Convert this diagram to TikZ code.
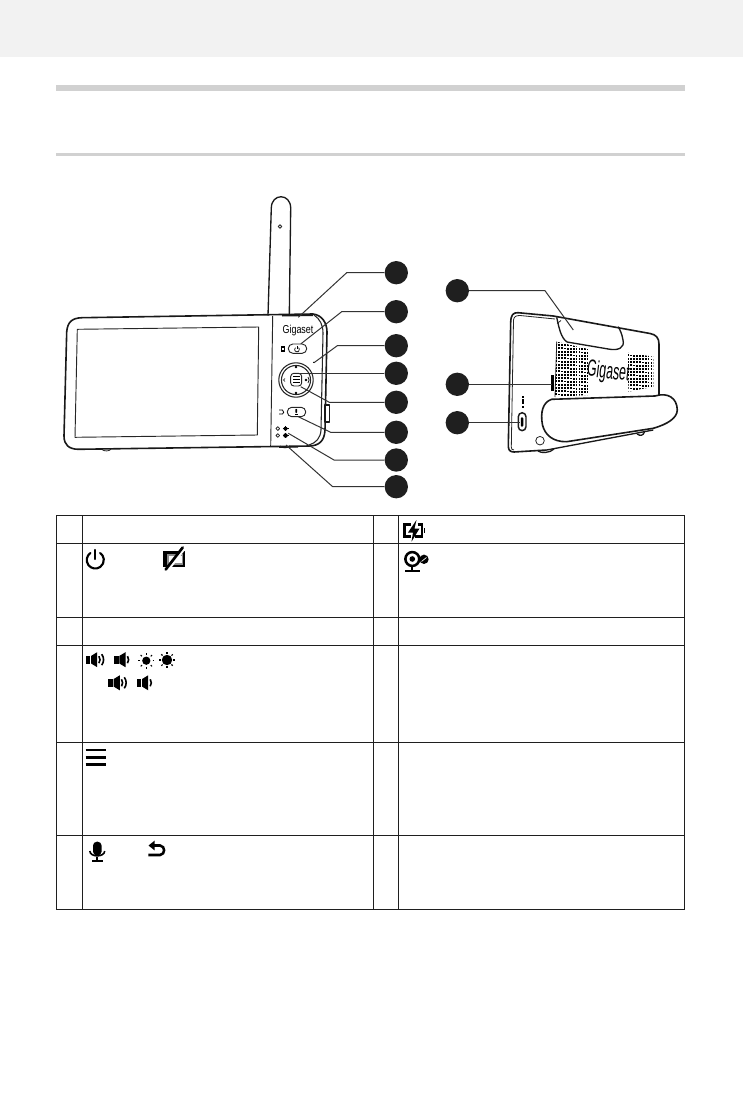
\documentclass[tikz,border=0pt]{standalone}
\usepackage{fontspec}
\setmainfont{Liberation Sans}
\tikzset{
  num/.style={circle,fill=black!88,draw=none,minimum size=17.5pt,inner sep=0pt},
  lead/.style={draw=black!80,line width=0.75pt,line join=miter},
  dev/.style={draw=black!90,line width=1pt,line join=round},
  devthin/.style={draw=black!85,line width=0.6pt,line join=round},
  grid/.style={draw=black!88,line width=1pt},
  pics/spk/.style={code={
    \fill (0,-3.8) rectangle (4.6,3.8);
    \fill (5.4,-3.8) -- (11.5,-7.5) -- (11.5,7.5) -- (5.4,3.8) -- cycle;
    \draw[line width=1.2pt] (13.5,-3.5) .. controls (15,-1) and (15,1) .. (13.5,3.5);
  }},
  pics/spkb/.style={code={
    \fill (0,-3.8) rectangle (4.6,3.8);
    \fill (5.4,-3.8) -- (11.5,-7.5) -- (11.5,7.5) -- (5.4,3.8) -- cycle;
    \draw[line width=1.2pt] (13.2,-3.5) .. controls (14.7,-1) and (14.7,1) .. (13.2,3.5);
    \draw[line width=1.2pt] (16,-5.5) .. controls (18.5,-2) and (18.5,2) .. (16,5.5);
  }},
  pics/sunny/.style={code={
    \fill (0,0) circle[radius=#1];
    \foreach \a in {0,45,...,315}
      \draw[line width=0.8pt] (\a:6.2) -- (\a:8);
  }},
}
\begin{document}
\begin{tikzpicture}[x=0.75pt,y=-0.75pt]
\useasboundingbox (0,0) rectangle (743,1105);
% page furniture
\fill[gray!10] (0,0) rectangle (743,57);
\fill[black!18] (56,85) rectangle (685,91);
\fill[black!18] (56,153) rectangle (685,156);

% ===== front view =====
\draw[dev] (268,315.5) -- (271.3,208) .. controls (271.5,193) and (290.5,193) .. (290.7,208) -- (289.3,315);
\draw[devthin] (280,226.5) circle[radius=1.3pt];
\draw[dev,line width=1.2pt] (66.7,332) .. controls (67.5,322) and (72,318) .. (82,317.7) -- (313,314)
  .. controls (322,315) and (327,323) .. (327,332) -- (325,430)
  .. controls (324.5,441) and (319,445.5) .. (310,446) -- (78,449.3)
  .. controls (69,449) and (64,445) .. (64,436) -- cycle;
\draw[devthin,line width=0.7pt] (77.3,329.3) -- (258.7,327) -- (257.3,435) -- (75,437.3) -- cycle;
\draw[devthin,line width=0.7pt] (272.7,316) -- (270.7,446);
\draw[devthin,line width=0.8pt] (314,315) .. controls (320,319) and (323,325) .. (323,333) -- (321,430) .. controls (320.5,438) and (316,443) .. (309,445);
\draw[line width=1.5pt,black!90] (282,315.5) -- (313,315);
\draw[devthin] (101.7,449.3) .. controls (104,451.5) and (109,451.5) .. (111,449.2);
\draw[devthin] (280,446) .. controls (283,448.5) and (287,448.5) .. (290,446);
\draw[dev,fill=white,line width=1.2pt] (325,405) rectangle (329.3,421.7);
\node (logoA) at (298,331) {\scalebox{0.78}[1]{\fontsize{8.6pt}{9pt}\selectfont Gigaset}};
\draw[devthin,line width=0.7pt,rounded corners=3.4pt] (288.3,344) rectangle (306.7,353.3);
\draw[line width=0.6pt] (297,345.8) -- (297,348.5);
\draw[line width=0.5pt] (295.46,347.66) arc[start angle=130,end angle=410,radius=1.8pt];
\fill (280.5,346) rectangle (285,351.5);
\fill[white] (282,347.5) rectangle (283.5,349.5);
\fill (313.6,362.4) circle[radius=0.5pt];
\draw[devthin,line width=0.8pt] (296,380) circle[radius=12.9pt];
\draw[devthin,line width=0.8pt] (296,380) circle[radius=10.9pt];
\draw[devthin,line width=0.7pt,rounded corners=2.4pt] (290.7,373.3) rectangle (301.7,386);
\foreach \yy in {376.7,379.6,382.5} \draw[line width=0.6pt] (293,\yy) -- (299.5,\yy);
\fill (296,367) circle[radius=1.1pt];
\fill (296,393) circle[radius=1.1pt];
\fill (306,380) circle[radius=1.1pt];
\draw[line width=0.5pt] (308,377) .. controls (309.5,379) and (309.5,381) .. (308,383);
\draw[line width=0.5pt] (285,378.5) -- (283.5,380) -- (285,381.5);
\draw[devthin,line width=0.7pt,rounded corners=3.4pt] (287.3,407.3) rectangle (305.7,416.7);
\fill[rounded corners=0.6pt] (295.3,408.8) rectangle (297.2,413);
\draw[line width=0.4pt] (295,414.5) -- (297.5,414.5);
\draw[line width=0.6pt] (279,410) -- (282.5,410) .. controls (284,411.5) and (284,413.5) .. (282.5,414) -- (279,414);
\draw[devthin] (277.8,428.6) circle[radius=1.4pt];
\draw[devthin] (277.8,435.5) circle[radius=1.4pt];
\fill (285.5,428.6) circle[radius=1.5pt];
\fill (285.5,435.5) circle[radius=1.7pt];
\draw[line width=0.4pt] (282.5,428.6) -- (288.5,428.6) (282.5,435.5) -- (288.5,435.5);
\draw[line width=0.4pt] (285.5,425.8) -- (285.5,431.4) (285.5,432.6) -- (285.5,438.4);
\draw[line width=1pt,black!90] (279,447.2) -- (298,447);

% ===== back view =====
\draw[dev,line width=1.2pt] (546.7,450) -- (514,452) .. controls (510,452) and (508.3,450) .. (508.3,446)
  -- (510.7,322) .. controls (511,315) and (513,312.5) .. (518,312.7)
  -- (553.3,316) -- (650,333.5) .. controls (656,334.5) and (659,338) .. (659,344) -- (659,397);
\draw[devthin] (513.5,320) .. controls (514,316.5) and (516,315.5) .. (520,315.5) -- (555,319);
\draw[devthin] (513.5,320) -- (511.3,447) .. controls (511.3,449) and (512,450) .. (514,450);
\draw[dev] (556.7,317.3) .. controls (559,328) and (561,338) .. (567,342) -- (610,349.3)
  .. controls (618,350.5) and (625,348) .. (623,340) .. controls (622,334) and (620,330) .. (618.3,326.7);
\draw[devthin] (561,320.5) -- (557,323.5);
\draw[devthin] (556.7,341.7) -- (555,397);
\begin{scope}
  \clip (556.7,341.7) -- (588,349) -- (588,395) -- (555,397) -- cycle;
  \foreach \i in {0,...,11}
    \foreach \j in {0,...,17}
      \fill (555.8+2.95*\i-0.9,341.5+3.3*\j+0.12*\i-0.9) rectangle ++(1.9,1.9);
\end{scope}
\begin{scope}
  \clip (628,352.7) -- (653.3,356.7) -- (653.3,386.7) -- (628.3,391.7) -- cycle;
  \foreach \i in {0,...,9}
    \foreach \j in {0,...,12}
      \fill (627.8+2.95*\i-0.9,352+3.3*\j+0.1*\i-0.9) rectangle ++(1.9,1.9);
\end{scope}
\node[rotate=-7,inner sep=0pt] (logoB) at (608.3,372.5) {\scalebox{0.53}[1]{\fontsize{17.5pt}{18pt}\selectfont Gigaset}};
\draw[dev,fill=white,line width=1.2pt] (551.7,399.3) -- (655,396) .. controls (668,392) and (677,398) .. (677.3,410)
  .. controls (677,418) and (668,424) .. (653.3,428.3) -- (566.7,441.7)
  .. controls (553,442) and (545,435) .. (542.5,425) .. controls (540,412) and (543,402) .. (551.7,399.3);
\draw[dev] (546.7,450) -- (653.3,430);
\draw[dev] (538,451) .. controls (541,453.5) and (550,453) .. (554,449);
\draw[dev] (637,434) .. controls (640,436) and (643,436) .. (644.5,432);
\fill (551,375) rectangle (554,390.7);
\draw[dev,line width=1.1pt,rounded corners=3pt] (518.3,412.7) rectangle (526,430.7);
\fill[rounded corners=1pt] (520.8,417) rectangle (523.3,427);
\draw[devthin] (540,440.7) circle[radius=3.2pt];
\fill (521.5,399) rectangle (523.5,404);
\fill (521.5,396) rectangle (523.5,397.5);
\fill (521.5,405.5) rectangle (523.5,407.5);

% ===== callouts =====
\foreach \nm/\xx/\yy in {a/396.3/272.7,b/396.3/311.7,c/396.3/345.7,d/396.3/373.3,e/396.3/402.3,f/396.3/432.3,g/396.3/460,h/396.3/486.7,i/457.3/290.7,j/457.3/384.3,k/457.3/422.7}
  \node[num] (\nm) at (\xx,\yy) {};
\coordinate (ae) at (346.7,272.7); \coordinate (at) at (298.3,317.3);
\coordinate (be) at (341.7,311.7); \coordinate (bt) at (300.7,344);
\coordinate (ce) at (337.3,345.7); \coordinate (ct) at (314,362.7);
\coordinate (dt) at (299,373.3);
\coordinate (ee) at (329.3,402.3); \coordinate (et) at (300.7,386.7);
\coordinate (fe) at (330.7,432.3); \coordinate (ft) at (298.3,416.7);
\coordinate (ge) at (334,460);     \coordinate (gt) at (288.3,433.3);
\coordinate (he) at (332.7,486.7); \coordinate (ht) at (286,445);
\coordinate (ie) at (545,290.7);   \coordinate (it) at (573.3,330);
\coordinate (jt) at (551.7,384.3);
\coordinate (kt) at (520,422.7);
\draw[lead] (a) -- (ae) -- (at);
\draw[lead] (b) -- (be) -- (bt);
\draw[lead] (c) -- (ce) -- (ct);
\draw[lead] (d) -- (dt);
\draw[lead] (e) -- (ee) -- (et);
\draw[lead] (f) -- (fe) -- (ft);
\draw[lead] (g) -- (ge) -- (gt);
\draw[lead] (h) -- (he) -- (ht);
\draw[lead] (i) -- (ie) -- (it);
\draw[lead] (j) -- (jt);
\draw[lead] (k) -- (kt);

% ===== table =====
\draw[grid] (56.7,515.3) rectangle (684.3,909.3);
\foreach \yy in {543.3,617.3,645.3,742.3,835.4} \draw[grid] (56.7,\yy) -- (684.3,\yy);
\foreach \xx in {82.3,373.3,398.3} \draw[grid] (\xx,515.3) -- (\xx,909.3);

% power icon
\draw[line width=1.6pt,line cap=round] (90.4,553) arc[start angle=125,end angle=415,radius=6.4pt];
\draw[line width=1.6pt,line cap=round] (95.3,550) -- (95.3,559);
% display-off icon
\fill (163.3,550.7) rectangle (185,567.3);
\fill[black!45] (166.7,554.3) rectangle (183,565);
\fill[white] (168.5,556) rectangle (181.5,563);
\draw[white,line width=2.6pt] (184,548.5) -- (169,568);
\draw[line width=2pt,line cap=round] (182.7,547.5) -- (165.7,569.5);
% speakers row 1
\pic[black] at (85.7,659.7) {spkb};
\pic[black] at (114,659.7) {spk};
\pic[black] at (146.3,660.7) {sunny=3.1pt};
\pic[black] at (167,660) {sunny=3.9pt};
% speakers row 2
\pic[black] at (108.3,682.8) {spkb};
\pic[black] at (136.7,682.8) {spk};
% menu icon
\foreach \yy in {750,757.3,764.3} \draw[line width=2pt] (85.7,\yy) -- (105.7,\yy);
% microphone
\fill[rounded corners=2.9pt] (93,841.7) rectangle (101.6,855.5);
\draw[line width=1.2pt] (89.8,851) .. controls (90,857.5) and (104.5,857.5) .. (104.7,851);
\draw[line width=1.3pt] (97.3,857) -- (97.3,860.5);
\draw[line width=1.5pt] (92,861) -- (102.7,861);
% back arrow
\fill (148.5,845.5) -- (154.5,840.7) -- (154.5,850.3) -- cycle;
\draw[line width=1.9pt] (153,845.5) -- (160,845.5) .. controls (165.5,846) and (165.5,854.5) .. (160,855) -- (148.3,855);
% charge icon
\draw[line width=1.9pt] (411,524.5) -- (404.5,524.5) -- (404.5,536.5) -- (410.5,536.5);
\draw[line width=1.9pt] (417.5,524.5) -- (422,524.5) -- (422,536.5) -- (415,536.5);
\fill (423.6,528) rectangle (425.2,533);
\fill (416.5,520) -- (408,532.5) -- (413,532.5) -- (411.5,541.7) -- (419.5,528.5) -- (414.5,528.5) -- cycle;
% camera link icon
\draw[line width=1.9pt] (412.3,559) circle[radius=5.2pt];
\fill (412.3,559) circle[radius=2.1pt];
\draw[line width=1.3pt] (412.3,566) -- (412.3,570);
\fill (424,559.3) circle[radius=3.5pt];
\draw[white,line width=0.5pt] (421.5,561.5) -- (426.5,557.5);
\draw[line width=1.6pt] (405,570.8) -- (420,570.8);
\end{tikzpicture}
\end{document}
